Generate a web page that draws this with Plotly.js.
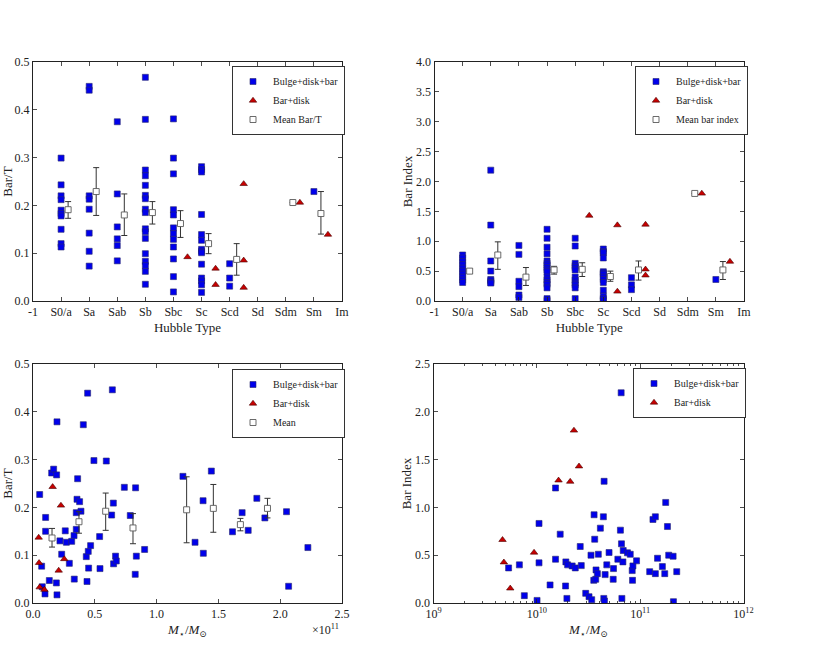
<!DOCTYPE html>
<html><head><meta charset="utf-8">
<script src="https://cdn.plot.ly/plotly-3.0.1.min.js"></script>
<style>html,body{margin:0;padding:0;background:#fff;}#chart{width:823px;height:648px;}</style>
</head><body><div id="chart"></div>
<script>
// ---------- Hubble-type axis ----------
const hubbleLabels = ['-1','S0/a','Sa','Sab','Sb','Sbc','Sc','Scd','Sd','Sdm','Sm','Im'];
const hubbleValues = [-1,0,1,2,3,4,5,6,7,8,9,10];

// ---------- Bulge+disk+bar galaxies by Hubble type ----------
const bdbType = [
 'S0/a','S0/a','S0/a','S0/a','S0/a','S0/a','S0/a','S0/a','S0/a','S0/a',
 'Sa','Sa','Sa','Sa','Sa','Sa','Sa','Sa',
 'Sab','Sab','Sab','Sab','Sab','Sab',
 'Sb','Sb','Sb','Sb','Sb','Sb','Sb','Sb','Sb','Sb','Sb','Sb','Sb','Sb','Sb','Sb','Sb',
 'Sbc','Sbc','Sbc','Sbc','Sbc','Sbc','Sbc','Sbc','Sbc','Sbc','Sbc','Sbc',
 'Sc','Sc','Sc','Sc','Sc','Sc','Sc','Sc','Sc','Sc','Sc','Sc','Sc','Sc',
 'Scd','Scd','Scd',
 'Sm'];
const bdbBarT = [
 0.299,0.243,0.220,0.212,0.190,0.183,0.178,0.150,0.120,0.113,
 0.449,0.441,0.220,0.213,0.192,0.142,0.104,0.073,
 0.375,0.224,0.155,0.130,0.116,0.084,
 0.468,0.380,0.274,0.262,0.242,0.221,0.214,0.192,0.185,0.151,0.145,0.131,0.099,0.083,0.074,0.062,0.035,
 0.381,0.299,0.266,0.191,0.180,0.153,0.141,0.129,0.113,0.088,0.051,0.019,
 0.281,0.275,0.270,0.181,0.139,0.127,0.108,0.104,0.101,0.077,0.048,0.042,0.034,0.018,
 0.078,0.048,0.031,
 0.229];
const bdbBarIdx = [
 0.77,0.72,0.66,0.61,0.55,0.50,0.45,0.40,0.35,0.31,
 2.19,1.27,0.67,0.50,0.36,0.34,0.31,0.30,
 0.93,0.78,0.33,0.24,0.10,0.06,
 1.20,1.05,0.90,0.79,0.67,0.63,0.60,0.56,0.52,0.49,0.40,0.35,0.31,0.28,0.22,0.04,0.01,
 1.05,0.92,0.63,0.59,0.56,0.52,0.40,0.35,0.30,0.27,0.22,0.04,
 0.87,0.83,0.81,0.72,0.49,0.47,0.45,0.40,0.36,0.31,0.18,0.08,0.04,0.01,
 0.39,0.27,0.19,
 0.36];

// ---------- Bar+disk galaxies by Hubble type ----------
const bdType   = ['Sbc','Sc','Sc','Scd','Scd','Scd','Sdm','Sm'];
const bdBarT   = [0.092,0.068,0.034,0.245,0.085,0.028,0.206,0.139];
const bdBarIdx = [1.43,1.27,0.16,1.28,0.53,0.43,1.80,0.66];

// ---------- Means by Hubble type ----------
const meanType    = ['S0/a','Sa','Sab','Sb','Sbc','Sc','Scd','Sdm','Sm'];
const meanBarT    = [0.191,0.229,0.180,0.185,0.162,0.120,0.087,0.206,0.183];
const meanBarTHi  = [0.208,0.279,0.224,0.208,0.189,0.141,0.120,0.206,0.229];
const meanBarTLo  = [0.173,0.179,0.137,0.161,0.133,0.099,0.054,0.206,0.140];
const meanIdx     = [0.50,0.77,0.40,0.52,0.53,0.41,0.52,1.80,0.52];
const meanIdxHi   = [0.54,0.99,0.56,0.58,0.64,0.50,0.67,1.80,0.66];
const meanIdxLo   = [0.46,0.53,0.26,0.45,0.41,0.33,0.35,1.80,0.36];

// ---------- Bar/T vs stellar mass (mass in units of 1e11 Msun) ----------
const massBDB_e11 = [0.054,0.070,0.075,0.097,0.102,0.102,0.132,0.151,0.167,0.191,0.194,0.189,0.194,0.218,0.232,0.261,0.270,0.294,0.313,0.332,0.334,0.350,0.356,0.361,0.350,0.377,0.388,0.407,0.431,0.437,0.442,0.447,0.450,0.466,0.493,0.539,0.542,0.593,0.642,0.636,0.650,0.652,0.668,0.674,0.739,0.787,0.827,0.830,0.836,0.903,1.213,1.311,1.378,1.376,1.443,1.614,1.692,1.741,1.811,1.876,2.051,2.068,2.224];
const barTmBDB    = [0.227,0.077,0.034,0.019,0.179,0.150,0.047,0.272,0.280,0.268,0.379,0.042,0.017,0.130,0.102,0.151,0.127,0.083,0.129,0.141,0.050,0.154,0.217,0.260,0.189,0.212,0.192,0.373,0.097,0.045,0.439,0.108,0.073,0.120,0.298,0.139,0.072,0.297,0.446,0.184,0.209,0.082,0.098,0.088,0.242,0.183,0.060,0.241,0.098,0.112,0.265,0.127,0.104,0.214,0.276,0.149,0.189,0.152,0.219,0.178,0.191,0.035,0.116];
const massBD_e11  = [0.046,0.049,0.054,0.092,0.159,0.226,0.208,0.253];
const barTmBD     = [0.137,0.084,0.033,0.028,0.243,0.204,0.068,0.092];
const meanMass_e11 = [0.154,0.372,0.588,0.809,1.243,1.459,1.678,1.897];
const meanBarTm    = [0.136,0.170,0.192,0.157,0.195,0.198,0.164,0.198];
const meanBarTmHi  = [0.156,0.191,0.230,0.187,0.264,0.248,0.177,0.219];
const meanBarTmLo  = [0.117,0.146,0.152,0.124,0.126,0.148,0.151,0.178];
const massTickVals = [0,0.5,1.0,1.5,2.0,2.5];
const massTickText = ['0.0','0.5','1.0','1.5','2.0','2.5'];

// ---------- Bar index vs stellar mass (Msun) ----------
const massIdxBDB = [5.33e9,6.78e9,7.57e9,1.005e10,1.05e10,1.05e10,1.343e10,1.517e10,1.517e10,1.683e10,1.897e10,1.91e10,1.954e10,1.986e10,2.198e10,2.355e10,2.63e10,2.692e10,2.972e10,3.199e10,3.342e10,3.396e10,3.556e10,3.581e10,3.631e10,3.715e10,3.741e10,3.855e10,3.936e10,4.121e10,4.406e10,4.446e10,4.477e10,4.508e10,4.581e10,4.753e10,5.0e10,5.483e10,5.521e10,6.081e10,6.442e10,6.546e10,6.592e10,6.653e10,6.808e10,6.855e10,7.534e10,8.017e10,8.375e10,8.433e10,8.511e10,9.226e10,1.236e11,1.33e11,1.403e11,1.403e11,1.472e11,1.641e11,1.73e11,1.766e11,1.837e11,1.888e11,2.084e11,2.099e11,2.259e11];
const idxBDB     = [0.367,0.399,0.077,0.027,0.832,0.420,0.189,0.458,1.203,0.720,0.178,0.430,0.048,0.399,0.388,0.367,0.591,0.391,0.101,0.066,0.500,0.035,0.237,0.923,0.667,0.248,0.346,0.307,0.510,0.783,0.902,0.048,1.273,0.021,0.297,0.399,0.528,0.248,0.360,0.458,0.762,2.199,0.619,0.048,0.430,0.549,0.525,0.510,0.339,0.237,0.388,0.441,0.328,0.874,0.902,0.307,0.468,0.381,0.307,1.052,0.800,0.500,0.489,0.014,0.328];
const massIdxBD  = [4.656e9,4.80e9,5.53e9,9.40e9,1.622e10,2.104e10,2.286e10,2.559e10];
const idxBD      = [0.661,0.426,0.153,0.528,1.283,1.270,1.805,1.430];
const logTickVals = [1e9,1e10,1e11,1e12];
const logTickText = ['10<sup>9</sup>','10<sup>10</sup>','10<sup>11</sup>','10<sup>12</sup>'];

// ---------- helpers ----------
const typeNum = t => hubbleValues[hubbleLabels.indexOf(t)];
const FONT = 'Liberation Serif, Times New Roman, DejaVu Serif, serif';
const blueM = {symbol:'square', size:6, color:'rgb(0,0,235)', line:{width:0.6, color:'rgb(40,40,110)'}};
const redM  = {symbol:'triangle-up', size:6.5, color:'rgb(200,0,0)', line:{width:0.6, color:'rgb(70,0,0)'}};
const meanM = {symbol:'square', size:6, color:'white', line:{width:0.9, color:'rgb(90,90,90)'}};
const err = (v, hi, lo) => ({type:'data', symmetric:false,
  array: v.map((y,i)=>hi[i]-y), arrayminus: v.map((y,i)=>y-lo[i]),
  color:'rgb(50,50,50)', thickness:1, width:3});

const traces = [
 // top-left
 {x: bdbType.map(typeNum), y: bdbBarT, xaxis:'x', yaxis:'y', mode:'markers', type:'scatter', marker:blueM, name:'Bulge+disk+bar', legend:'legend'},
 {x: bdType.map(t=>typeNum(t)+0.5), y: bdBarT, xaxis:'x', yaxis:'y', mode:'markers', type:'scatter', marker:redM, name:'Bar+disk', legend:'legend'},
 {x: meanType.map(t=>typeNum(t)+0.25), y: meanBarT, error_y: err(meanBarT, meanBarTHi, meanBarTLo), xaxis:'x', yaxis:'y', mode:'markers', type:'scatter', marker:meanM, name:'Mean Bar/T', legend:'legend'},
 // top-right
 {x: bdbType.map(typeNum), y: bdbBarIdx, xaxis:'x2', yaxis:'y2', mode:'markers', type:'scatter', marker:blueM, name:'Bulge+disk+bar', legend:'legend2'},
 {x: bdType.map(t=>typeNum(t)+0.5), y: bdBarIdx, xaxis:'x2', yaxis:'y2', mode:'markers', type:'scatter', marker:redM, name:'Bar+disk', legend:'legend2'},
 {x: meanType.map(t=>typeNum(t)+0.25), y: meanIdx, error_y: err(meanIdx, meanIdxHi, meanIdxLo), xaxis:'x2', yaxis:'y2', mode:'markers', type:'scatter', marker:meanM, name:'Mean bar index', legend:'legend2'},
 // bottom-left
 {x: massBDB_e11, y: barTmBDB, xaxis:'x3', yaxis:'y3', mode:'markers', type:'scatter', marker:blueM, name:'Bulge+disk+bar', legend:'legend3'},
 {x: massBD_e11, y: barTmBD, xaxis:'x3', yaxis:'y3', mode:'markers', type:'scatter', marker:redM, name:'Bar+disk', legend:'legend3'},
 {x: meanMass_e11, y: meanBarTm, error_y: err(meanBarTm, meanBarTmHi, meanBarTmLo), xaxis:'x3', yaxis:'y3', mode:'markers', type:'scatter', marker:meanM, name:'Mean', legend:'legend3'},
 // bottom-right
 {x: massIdxBDB, y: idxBDB, xaxis:'x4', yaxis:'y4', mode:'markers', type:'scatter', marker:blueM, name:'Bulge+disk+bar', legend:'legend4'},
 {x: massIdxBD, y: idxBD, xaxis:'x4', yaxis:'y4', mode:'markers', type:'scatter', marker:redM, name:'Bar+disk', legend:'legend4'}
];

const W = 823, H = 648;
const common = {showline:true, linecolor:'#222', linewidth:1, mirror:'ticks', ticks:'inside', ticklen:4, tickwidth:0.8, tickcolor:'#222',
  showgrid:false, zeroline:false, tickfont:{family:FONT, size:12, color:'#222'}, fixedrange:true};
const titleFont = {family:FONT, size:13, color:'#222'};
const domLX = [33/W, 342/W], domRX = [434.5/W, 744/W], domBRX = [433.5/W, 743.5/W];
const domTY = [1-301/H, 1-62/H], domBY = [1-603/H, 1-364/H];
const minorLog = [];
[1e9,1e10,1e11].forEach(d => { for (let k=2;k<=9;k++) minorLog.push(k*d); });

const legendBase = {xanchor:'left', yanchor:'top', bgcolor:'white', bordercolor:'#333', borderwidth:1,
  font:{family:FONT, size:10, color:'#222'}, tracegroupgap:0, itemwidth:30};

const layout = {
  width:W, height:H, margin:{l:0,r:0,t:0,b:0}, paper_bgcolor:'white', plot_bgcolor:'white',
  font:{family:FONT, size:12, color:'#222'}, showlegend:true,
  xaxis: Object.assign({}, common, {domain:domLX, anchor:'y', range:[-1,10], tickmode:'array', tickvals:hubbleValues, ticktext:hubbleLabels,
     title:{text:'Hubble Type', font:titleFont, standoff:4}}),
  yaxis: Object.assign({}, common, {domain:domTY, anchor:'x', range:[0,0.5], dtick:0.1, tickformat:'.1f',
     title:{text:'Bar/T', font:titleFont, standoff:7}}),
  xaxis2: Object.assign({}, common, {domain:domRX, anchor:'y2', range:[-1,10], tickmode:'array', tickvals:hubbleValues, ticktext:hubbleLabels,
     title:{text:'Hubble Type', font:titleFont, standoff:4}}),
  yaxis2: Object.assign({}, common, {domain:domTY, anchor:'x2', range:[0,4], dtick:0.5, tickformat:'.1f',
     title:{text:'Bar Index', font:titleFont, standoff:0}}),
  xaxis3: Object.assign({}, common, {domain:domLX, anchor:'y3', range:[0,2.5], tickmode:'array', tickvals:massTickVals, ticktext:massTickText,
     title:{text:'<i>M</i><sub>⋆</sub>/<i>M</i><sub>⊙</sub>', font:titleFont, standoff:4}}),
  yaxis3: Object.assign({}, common, {domain:domBY, anchor:'x3', range:[0,0.5], dtick:0.1, tickformat:'.1f',
     title:{text:'Bar/T', font:titleFont, standoff:7}}),
  xaxis4: Object.assign({}, common, {domain:domBRX, anchor:'y4', type:'log', range:[9,12], tickmode:'array', tickvals:logTickVals, ticktext:logTickText,
     minor:{tickmode:'array', tickvals:minorLog, ticks:'inside', ticklen:2, tickcolor:'#222', tickwidth:0.8, showgrid:false},
     title:{text:'<i>M</i><sub>⋆</sub>/<i>M</i><sub>⊙</sub>', font:titleFont, standoff:4}}),
  yaxis4: Object.assign({}, common, {domain:domBY, anchor:'x4', range:[0,2.5], dtick:0.5, tickformat:'.1f',
     title:{text:'Bar Index', font:titleFont, standoff:0}}),
  legend:  Object.assign({}, legendBase, {x:232/W, y:1-66/H}),
  legend2: Object.assign({}, legendBase, {x:635/W, y:1-66/H}),
  legend3: Object.assign({}, legendBase, {x:232/W, y:1-369/H}),
  legend4: Object.assign({}, legendBase, {x:633/W, y:1-368/H}),
  annotations:[{text:'×10<sup>11</sup>', xref:'paper', yref:'paper', x:341/W, y:1-620/H, xanchor:'right', yanchor:'top',
     showarrow:false, font:{family:FONT, size:12, color:'#222'}}]
};

Plotly.newPlot('chart', traces, layout, {staticPlot:true, displayModeBar:false});
</script></body></html>
